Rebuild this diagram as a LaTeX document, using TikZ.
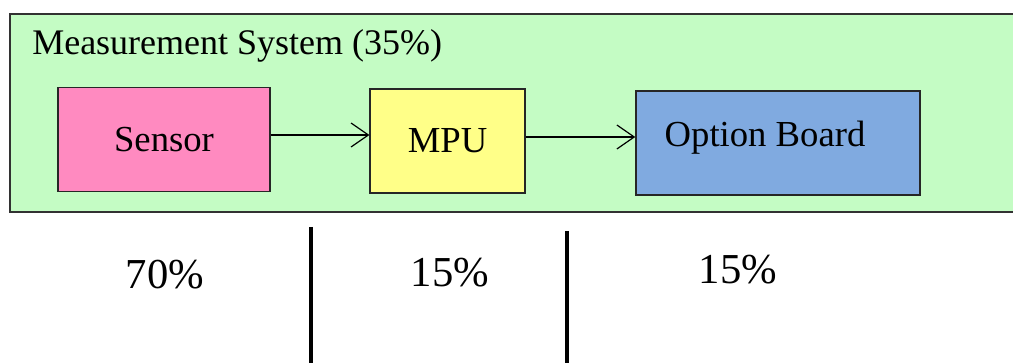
\documentclass[tikz,border=0pt]{standalone}
\usepackage{fontspec}
\setmainfont{Liberation Serif}
\usetikzlibrary{arrows.meta}
\definecolor{sysgreen}{RGB}{196,252,196}
\definecolor{sensorpink}{RGB}{255,138,192}
\definecolor{mpuyellow}{RGB}{255,255,136}
\definecolor{boardblue}{RGB}{128,170,224}
\definecolor{framegray}{RGB}{50,50,50}
\tikzset{
  sysframe/.style={draw=framegray, line width=1.5pt, fill=sysgreen, rectangle, inner sep=0pt},
  block/.style={draw=black!85, line width=1.1pt, rectangle, minimum height=78pt,
    inner sep=0pt, font=\fontsize{27.5}{31}\selectfont},
  flow/.style={line width=0.9pt, -{Straight Barb[length=13pt,width=18pt,line width=0.9pt]}},
  share/.style={font=\fontsize{32}{36}\selectfont},
  divider/.style={line width=2.3pt}
}
\begin{document}
\begin{tikzpicture}[x=0.75pt,y=-0.75pt]
  \useasboundingbox (0,0) rectangle (1013,363);
  % enclosing measurement system
  \node[sysframe, anchor=north west, minimum width=755pt, minimum height=148.5pt] (sys) at (9,13) {};
  \node[anchor=base west, font=\fontsize{27}{31}\selectfont, inner sep=0pt] (title) at (32,55) {Measurement System (35\%)};
  % signal chain
  \node[block, fill=sensorpink, minimum width=159pt] (sensor) at (164,139.5) {Sensor};
  \node[block, fill=mpuyellow, minimum width=116pt] (mpu) at (447.5,141) {MPU};
  \node[block, fill=boardblue, minimum width=213pt] (board) at (778,143) {};
  \node[font=\fontsize{27.5}{31}\selectfont, inner sep=0pt] (boardtext) at (765,138) {Option Board};
  \draw[flow] (sensor.east |- 0,135) coordinate (s1) -- (mpu.west |- s1);
  \draw[flow] (mpu.east |- 0,137) coordinate (s2) -- (board.west |- s2);
  % cost shares
  \node[share] (p1) at (165,275) {70\%};
  \node[share] (p2) at (450,273) {15\%};
  \node[share] (p3) at (738,270) {15\%};
  \coordinate (d1a) at (311,227);
  \coordinate (d1b) at (311,363);
  \coordinate (d2a) at (567,231);
  \coordinate (d2b) at (567,363);
  \draw[divider] (d1a) -- (d1b);
  \draw[divider] (d2a) -- (d2b);
\end{tikzpicture}
\end{document}
